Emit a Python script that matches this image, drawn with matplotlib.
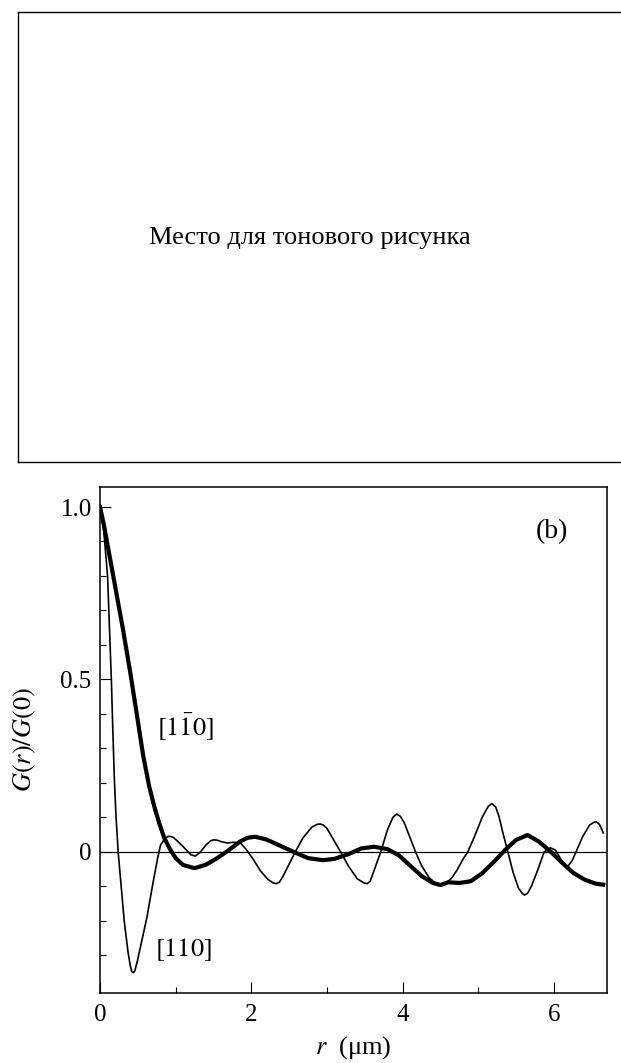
import matplotlib
matplotlib.use('Agg')
import matplotlib.pyplot as plt
from matplotlib.ticker import MultipleLocator, FixedLocator

plt.rcParams['font.family'] = ['Liberation Serif', 'DejaVu Serif']
plt.rcParams['mathtext.fontset'] = 'stix'

# [1-10] curve (thick)
r_thick = [0.00, 0.05, 0.10, 0.20, 0.30, 0.40, 0.50, 0.57, 0.65, 0.72, 0.78, 0.85,
           0.92, 1.00, 1.10, 1.25, 1.40, 1.55, 1.70, 1.85, 1.95, 2.05, 2.20, 2.38,
           2.56, 2.75, 2.95, 3.10, 3.30, 3.45, 3.62, 3.80, 3.95, 4.10, 4.25, 4.40,
           4.50, 4.60, 4.75, 4.90, 5.05, 5.20, 5.35, 5.50, 5.65, 5.80, 5.96, 6.10,
           6.25, 6.40, 6.55, 6.65]
g_thick = [1.00, 0.95, 0.89, 0.77, 0.65, 0.52, 0.38, 0.28, 0.19, 0.13, 0.085, 0.04,
           0.01, -0.018, -0.038, -0.047, -0.037, -0.018, 0.005, 0.030, 0.041, 0.044, 0.036, 0.018,
           0.0, -0.018, -0.024, -0.020, -0.005, 0.010, 0.015, 0.008, -0.010, -0.040, -0.070, -0.090,
           -0.096, -0.088, -0.090, -0.085, -0.062, -0.030, 0.005, 0.035, 0.049, 0.030, 0.0, -0.030,
           -0.060, -0.080, -0.092, -0.095]

# [110] curve (thin)
r_thin = [0.00, 0.05, 0.10, 0.13, 0.15, 0.17, 0.19, 0.21, 0.24, 0.28, 0.32, 0.37,
          0.40, 0.42, 0.44, 0.46, 0.49, 0.54, 0.62, 0.70, 0.76, 0.80, 0.86, 0.90, 0.93, 0.97, 1.03, 1.10,
          1.20, 1.26, 1.32, 1.40, 1.46, 1.50, 1.55, 1.60, 1.68, 1.78, 1.86, 1.94, 2.03, 2.12,
          2.22, 2.29, 2.33, 2.37, 2.42, 2.50, 2.58, 2.68, 2.80, 2.87, 2.91, 2.95, 3.00, 3.10, 3.18, 3.28,
          3.40, 3.49, 3.53, 3.57, 3.62, 3.71, 3.80, 3.87, 3.92, 3.97, 4.02, 4.10, 4.17, 4.25, 4.35, 4.46,
          4.55, 4.65, 4.72, 4.80, 4.86, 4.95, 5.05, 5.13, 5.18, 5.23, 5.27, 5.33, 5.39, 5.46,
          5.53, 5.58, 5.61, 5.65, 5.70, 5.78, 5.87, 5.95, 6.02, 6.10, 6.18, 6.24, 6.29, 6.38,
          6.47, 6.53, 6.56, 6.60, 6.63, 6.65]
g_thin = [1.00, 0.93, 0.80, 0.62, 0.50, 0.35, 0.21, 0.11, 0.00, -0.10, -0.20, -0.29,
          -0.33, -0.347, -0.35, -0.345, -0.32, -0.27, -0.19, -0.09, -0.02, 0.02, 0.040, 0.045, 0.045, 0.042, 0.030, 0.015,
          -0.008, -0.012, -0.002, 0.020, 0.032, 0.035, 0.034, 0.030, 0.026, 0.028, 0.025, 0.005, -0.023, -0.055,
          -0.080, -0.090, -0.092, -0.088, -0.070, -0.035, 0.000, 0.040, 0.072, 0.080, 0.081, 0.078, 0.068, 0.030, 0.000, -0.040,
          -0.078, -0.090, -0.092, -0.085, -0.055, 0.000, 0.065, 0.100, 0.110, 0.103, 0.085, 0.040, 0.000, -0.040, -0.075, -0.095,
          -0.095, -0.075, -0.052, -0.020, 0.000, 0.045, 0.100, 0.132, 0.140, 0.130, 0.105, 0.050, 0.000, -0.060,
          -0.105, -0.120, -0.125, -0.120, -0.100, -0.055, 0.000, 0.012, 0.005, -0.025, -0.043, -0.025, 0.000, 0.045,
          0.078, 0.086, 0.087, 0.080, 0.066, 0.055]

xticks = [0, 2, 4, 6]
yticks = [0, 0.5, 1.0]
ytick_labels = ['0', '0.5', '1.0']
yminor = [-0.3, -0.2, -0.1, 0.1, 0.2, 0.3, 0.4, 0.6, 0.7, 0.8, 0.9]

fig = plt.figure(figsize=(6.21, 10.63), dpi=100)

# placeholder frame on top
ax_top = fig.add_axes([18 / 621, 1 - 462 / 1063, 1.0, 450 / 1063])
ax_top.set_xticks([])
ax_top.set_yticks([])
for s in ['left', 'top', 'bottom']:
    ax_top.spines[s].set_linewidth(1.0)
ax_top.spines['right'].set_visible(False)
fig.text(310 / 621, 1 - 238 / 1063, 'Место для тонового рисунка',
         ha='center', va='center', fontsize=19)

# correlation plot
ax = fig.add_axes([100 / 621, 1 - 993 / 1063, 507 / 621, 506 / 1063])
ax.plot(r_thin, g_thin, color='black', lw=1.2)
ax.plot(r_thick, g_thick, color='black', lw=3.0)
ax.axhline(0, color='black', lw=0.9)

ax.set_xlim(0, 6.70)
ax.set_ylim(-0.409, 1.058)
ax.set_xticks(xticks)
ax.set_yticks(yticks)
ax.set_yticklabels(ytick_labels)
ax.xaxis.set_minor_locator(MultipleLocator(1))
ax.yaxis.set_minor_locator(FixedLocator(yminor))
ax.tick_params(which='both', direction='in', top=False, right=False, width=0.8, labelsize=18)
ax.tick_params(which='major', length=8)
ax.tick_params(which='minor', length=4.5)
ax.tick_params(axis='y', pad=6)
ax.tick_params(axis='x', pad=8)
for s in ax.spines.values():
    s.set_linewidth(1.1)

ax.set_ylabel(r'$G(r)/G(0)$', fontsize=19, labelpad=16)
ax.set_xlabel(r'$r$  (μm)', fontsize=19, labelpad=6)

ax.text(0.755, 0.36, r'$[1\bar{1}0]$', fontsize=19, ha='left', va='center')
ax.text(0.73, -0.284, r'$[110]$', fontsize=19, ha='left', va='center')
ax.text(5.97, 0.93, '(b)', fontsize=20, ha='center', va='center')

plt.savefig('out.png', dpi=100)
